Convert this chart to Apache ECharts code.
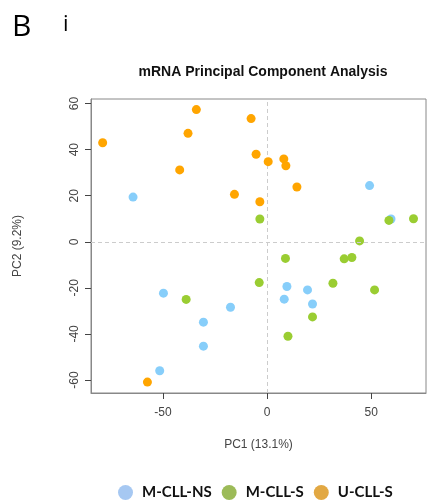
<!DOCTYPE html>
<html>
<head>
<meta charset="utf-8">
<script src="https://cdn.jsdelivr.net/npm/echarts@6/dist/echarts.min.js"></script>
<style>
html,body{margin:0;padding:0;background:#fff;}
#chart{width:432px;height:500px;}
</style>
</head>
<body>
<div id="chart"></div>
<script>
// ---- data ----
const seriesNames = ['M-CLL-NS', 'M-CLL-S', 'U-CLL-S'];
const mcllNS = [[-64.4,19.4],[49.2,24.4],[59.5,9.9],[-49.8,-22.3],[-17.6,-28.4],[-30.6,-34.9],[-30.6,-45.3],[-51.6,-56],[9.5,-19.4],[19.4,-20.9],[8.2,-24.9],[21.8,-27]];
const mcllS = [[-3.5,9.9],[58.5,9.3],[70.3,10],[44.4,0.4],[-38.9,-25],[8.8,-7.2],[37,-7.4],[40.7,-6.8],[-3.8,-17.7],[31.6,-18],[51.6,-20.9],[21.8,-32.6],[10,-41]];
const ucllS = [[-79,43],[-42,31.2],[-38,47.1],[-34,57.4],[-15.7,20.6],[-7.7,53.5],[-5.3,38],[0.5,34.8],[8,36],[9,33],[14.3,23.8],[-3.5,17.4],[-57.5,-60.9]];
const xTicks = [-50, 0, 50];
const yTicks = [-60, -40, -20, 0, 20, 40, 60];
const title = 'mRNA Principal Component Analysis';
const xName = 'PC1 (13.1%)';
const yName = 'PC2 (9.2%)';

// ---- styles ----
const pointColors = ['#87CEFA', '#9ACD32', '#FFA500'];
const legendColors = ['#A6C8F2', '#9CBB58', '#E2A843'];
const groups = [mcllNS, mcllS, ucllS];

const chart = echarts.init(document.getElementById('chart'), null, {renderer: 'canvas'});
const axisFont = {fontFamily: 'Liberation Sans', fontSize: 12, color: '#444'};

const series = groups.map((g, i) => ({
  name: seriesNames[i],
  type: 'scatter',
  data: g,
  symbol: 'circle',
  symbolSize: 9,
  itemStyle: {color: pointColors[i], opacity: 1},
  z: 3 + i
}));
series.push({
  type: 'scatter',
  data: [],
  silent: true,
  markLine: {
    silent: true,
    symbol: ['none', 'none'],
    label: {show: false},
    lineStyle: {color: '#cccccc', type: [4, 3], width: 1},
    data: [{xAxis: 0}, {yAxis: 0}]
  },
  z: 1
});

chart.setOption({
  animation: false,
  backgroundColor: '#fff',
  title: {
    text: title,
    left: 258, top: 60, textAlign: 'center',
    textStyle: {fontFamily: 'Liberation Sans', fontWeight: 'bold', fontSize: 14, color: '#111'}
  },
  legend: {
    top: 480,
    left: 113,
    orient: 'horizontal',
    width: 400,
    itemGap: 10,
    itemWidth: 15,
    itemHeight: 15,
    icon: 'circle',
    textStyle: {fontFamily: 'Lato', fontWeight: 'bold', fontSize: 15, color: '#111', padding: [0, 0, 0, 4]},
    data: seriesNames.map((n, i) => ({name: n, itemStyle: {color: legendColors[i]}}))
  },
  graphic: [
    {type: 'text', left: 12, top: 12, style: {text: 'B', font: '30px "Open Sans"', fill: '#000'}},
    {type: 'text', left: 63, top: 14, style: {text: 'i', font: '22px "Open Sans"', fill: '#000'}}
  ],
  grid: {
    left: 91, right: 6, top: 99, bottom: 107,
    show: true, borderColor: '#888', borderWidth: 1, backgroundColor: 'transparent'
  },
  xAxis: {
    type: 'value', min: -84.6, max: 76.3,
    name: xName, nameLocation: 'middle', nameGap: 46,
    nameTextStyle: axisFont,
    axisLine: {show: true, onZero: false, lineStyle: {color: '#888'}},
    splitLine: {show: false},
    axisTick: {show: true, length: 6, lineStyle: {color: '#444'}, customValues: xTicks},
    axisLabel: Object.assign({margin: 14, customValues: xTicks}, axisFont)
  },
  yAxis: {
    type: 'value', min: -65.65, max: 62,
    name: yName, nameLocation: 'middle', nameGap: 67,
    nameTextStyle: axisFont,
    axisLine: {show: true, onZero: false, lineStyle: {color: '#888'}},
    splitLine: {show: false},
    axisTick: {show: true, length: 6, lineStyle: {color: '#444'}, customValues: yTicks},
    axisLabel: Object.assign({margin: 10, rotate: 90, customValues: yTicks}, axisFont)
  },
  series: series
});
</script>
</body>
</html>
